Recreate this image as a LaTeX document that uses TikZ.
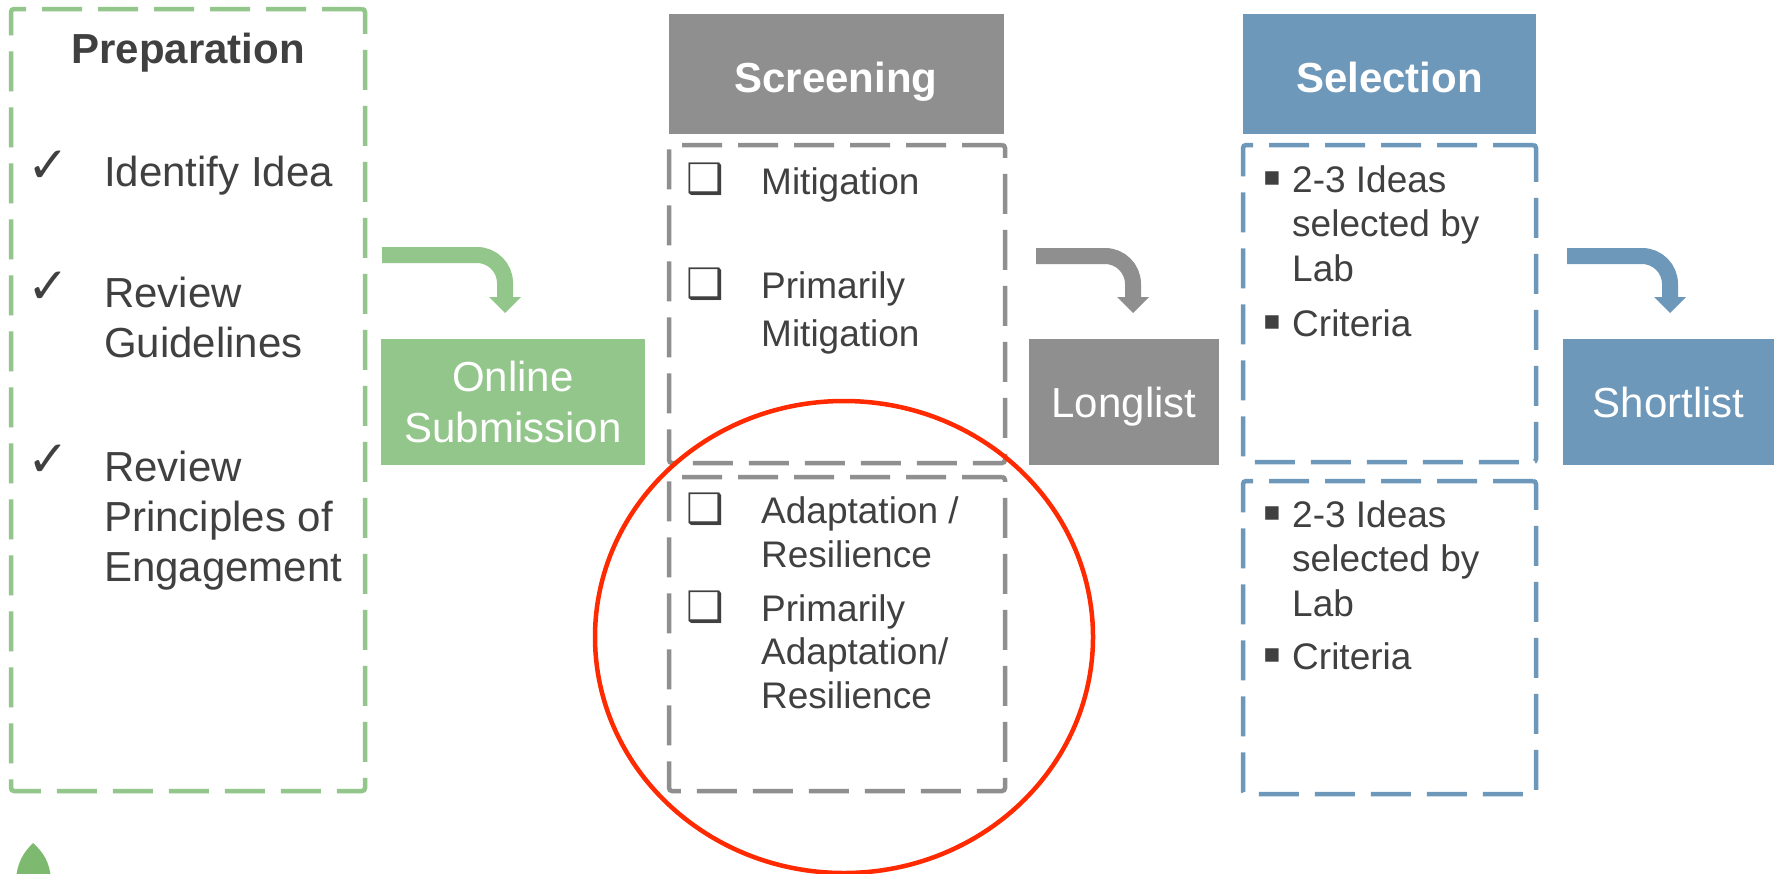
\documentclass[tikz,border=0pt]{standalone}
\usepackage{fontspec}
\setmainfont{Liberation Sans}
\newfontfamily\symbfont{DejaVu Sans}
\usetikzlibrary{calc}
\definecolor{txt}{HTML}{404040}
\definecolor{grn}{HTML}{93C68B}
\definecolor{gry}{HTML}{8F8F8F}
\definecolor{blu}{HTML}{6E98BA}
\definecolor{redc}{HTML}{FF2A00}
\definecolor{leafc}{HTML}{7DBA6F}
\newcommand\FBig{\fontsize{42}{50}\selectfont}
\newcommand\FMed{\fontsize{37}{44}\selectfont}
\tikzset{
  dbox/.style={draw=#1, line width=4.5pt, dash pattern=on 40pt off 16pt, rounded corners=3pt, inner sep=0pt},
  head/.style={fill=#1, inner sep=0pt, text=white, font=\FBig\bfseries, text height=37pt, text depth=0pt},
  stage/.style={fill=#1, inner sep=0pt, text=white, font=\FBig, align=center},
  item/.style={anchor=north west, inner sep=0pt, text=txt, align=left},
  chk/.style={inner sep=0pt, text=txt, font=\symbfont\fontsize{50}{50}\selectfont},
  cbx/.style={inner sep=0pt, text=txt, font=\symbfont\fontsize{42}{42}\selectfont},
  bul/.style={inner sep=0pt, text=txt, font=\symbfont\fontsize{27}{27}\selectfont},
  band/.style={draw=#1, line width=16pt, rounded corners=28pt},
}
\begin{document}
\begin{tikzpicture}[x=1pt,y=-1pt]
\useasboundingbox (0,0) rectangle (1779,873);
\fill[white] (0,0) rectangle (1779,873);

% ---------- Preparation ----------
\node[dbox=grn, minimum width=354pt, minimum height=782pt] (prep) at (188,400) {};
\node[inner sep=0pt, text=txt, font=\FBig\bfseries, anchor=base] (preptitle) at (188,63) {Preparation};
\node[chk] (ck1) at (48,167) {✓};
\node[item, font=\FBig] (p1) at (104,155.5) {Identify Idea};
\node[chk] (ck2) at (48,288) {✓};
\node[item, font=\fontsize{42}{50}\selectfont] (p2) at (104,276.5) {Review\\Guidelines};
\node[chk] (ck3) at (48,461) {✓};
\node[item, font=\fontsize{42}{50}\selectfont] (p3) at (104,450.5) {Review\\Principles of\\Engagement};

% ---------- Online Submission ----------
\node[stage=grn, minimum width=264pt, minimum height=126pt, font=\fontsize{42}{51}\selectfont] (online) at (513,402) {Online\\Submission};

% ---------- Screening ----------
\node[head=gry, minimum width=335pt, minimum height=120pt] (scrhead) at (836,74) {Screening};
\node[dbox=gry, minimum width=336pt, minimum height=318pt] (scrup) at (837,304) {};
\node[dbox=gry, minimum width=336pt, minimum height=314pt] (scrlow) at (837,634) {};
\node[cbx] (b1) at (705,179.5) {❑};
\node[item, font=\FMed] (s1) at (761,167) {Mitigation};
\node[cbx] (b2) at (705,284) {❑};
\node[item, font=\fontsize{37}{48}\selectfont] (s2) at (761,271) {Primarily\\Mitigation};
\node[cbx] (b3) at (705,509) {❑};
\node[item, font=\fontsize{37}{44}\selectfont] (s3) at (761,496) {Adaptation /\\Resilience};
\node[cbx] (b4) at (705,607) {❑};
\node[item, font=\fontsize{37}{43.5}\selectfont] (s4) at (761,594) {Primarily\\Adaptation/\\Resilience};

% ---------- Longlist ----------
\node[stage=gry, minimum width=190pt, minimum height=126pt, text height=31.5pt, text depth=0pt] (long) at (1124,402) {Longlist};

% ---------- Selection ----------
\node[head=blu, minimum width=293pt, minimum height=120pt] (selhead) at (1389.5,74) {Selection};
\node[dbox=blu, minimum width=293pt, minimum height=317pt] (selup) at (1389.5,303.5) {};
\node[dbox=blu, minimum width=293pt, minimum height=313pt] (sellow) at (1389.5,637.5) {};
\node[bul] (u1) at (1272,179) {▪};
\node[item, font=\fontsize{37}{44.5}\selectfont] (t1) at (1292,165) {2-3 Ideas\\selected by\\Lab};
\node[bul] (u2) at (1272,323) {▪};
\node[item, font=\FMed] (t2) at (1292,309) {Criteria};
\node[bul] (u3) at (1272,514) {▪};
\node[item, font=\fontsize{37}{44.5}\selectfont] (t3) at (1292,500) {2-3 Ideas\\selected by\\Lab};
\node[bul] (u4) at (1272,656) {▪};
\node[item, font=\FMed] (t4) at (1292,642) {Criteria};

% ---------- Shortlist ----------
\node[stage=blu, minimum width=211pt, minimum height=126pt] (short) at (1668.5,402) {Shortlist};

% ---------- bent arrows ----------
\coordinate (ga0) at (382,255);
\coordinate (ga1) at (505,298);
\draw[band=grn] (ga0) -| (ga1);
\fill[grn] ($(ga1)+(-16,-1)$) -- ($(ga1)+(16,-1)$) -- ($(ga1)+(0,15)$) -- cycle;

\coordinate (ya0) at (1036,256);
\coordinate (ya1) at (1133,298);
\draw[band=gry] (ya0) -| (ya1);
\fill[gry] ($(ya1)+(-16,-1)$) -- ($(ya1)+(16,-1)$) -- ($(ya1)+(0,15)$) -- cycle;

\coordinate (ba0) at (1567,256);
\coordinate (ba1) at (1670,298);
\draw[band=blu] (ba0) -| (ba1);
\fill[blu] ($(ba1)+(-16,-1)$) -- ($(ba1)+(16,-1)$) -- ($(ba1)+(0,15)$) -- cycle;

% ---------- red circle ----------
\draw[redc, line width=4.5pt] (844,637) ellipse [x radius=249pt, y radius=236pt];

% ---------- leaf (cut by page edge) ----------
\begin{scope}
\clip (0,0) rectangle (1779,873);
\fill[leafc] (33,843) .. controls (24,852) and (17,862) .. (16,880) -- (51,880) .. controls (50,862) and (43,852) .. (33,843) -- cycle;
\end{scope}
\end{tikzpicture}
\end{document}
